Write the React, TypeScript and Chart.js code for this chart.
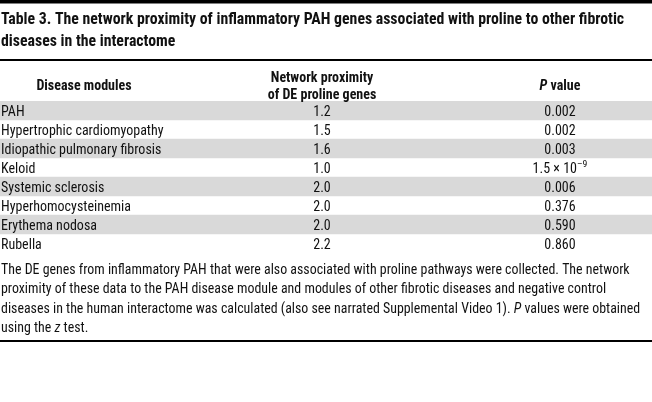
import React, { useEffect, useRef } from 'react';
import { Chart, registerables } from 'chart.js';

Chart.register(...registerables);

const TITLE_LINES = [
  'Table 3. The network proximity of inflammatory PAH genes associated with proline to other fibrotic',
  'diseases in the interactome',
];
const HEADER_DISEASE = ['Disease modules'];
const HEADER_PROXIMITY = ['Network proximity', 'of DE proline genes'];
const HEADER_PVALUE = ['_P_ value'];
const DISEASES = [
  'PAH',
  'Hypertrophic cardiomyopathy',
  'Idiopathic pulmonary fibrosis',
  'Keloid',
  'Systemic sclerosis',
  'Hyperhomocysteinemia',
  'Erythema nodosa',
  'Rubella',
];
const PROXIMITY = [1.2, 1.5, 1.6, 1.0, 2.0, 2.0, 2.0, 2.2];
const P_VALUES = ['0.002', '0.002', '0.003', '1.5 × 10^–9', '0.006', '0.376', '0.590', '0.860'];
const FOOTNOTE = [
  'The DE genes from inflammatory PAH that were also associated with proline pathways were collected. The network',
  'proximity of these data to the PAH disease module and modules of other fibrotic diseases and negative control',
  'diseases in the human interactome was calculated (also see narrated Supplemental Video 1). _P_ values were obtained',
  'using the _z_ test.',
];

const FONT = '"Liberation Sans Narrow", "Roboto Condensed", Roboto, sans-serif';
const TEXT = '#111111';
const STRIPE = '#d9d9d9';

type Seg = { t: string; it: boolean; sup: boolean };

function parse(s: string): Seg[] {
  const out: Seg[] = [];
  const parts = s.split('_');
  parts.forEach((p, i) => {
    if (!p) return;
    const it = i % 2 === 1;
    const k = p.indexOf('^');
    if (k >= 0) {
      out.push({ t: p.slice(0, k), it, sup: false });
      out.push({ t: p.slice(k + 1), it, sup: true });
    } else out.push({ t: p, it, sup: false });
  });
  return out;
}

function font(seg: Seg, size: number, weight: string) {
  const sz = seg.sup ? size * 0.7 : size;
  return `${seg.it ? 'italic ' : ''}${weight} ${sz}px ${FONT}`;
}

function drawRich(
  ctx: CanvasRenderingContext2D,
  s: string,
  x: number,
  y: number,
  align: 'left' | 'center',
  size: number,
  weight = 'normal'
) {
  const segs = parse(s);
  let total = 0;
  const widths = segs.map((g) => {
    ctx.font = font(g, size, weight);
    const w = ctx.measureText(g.t).width;
    total += w;
    return w;
  });
  let cx = align === 'center' ? x - total / 2 : x;
  ctx.textAlign = 'left';
  ctx.textBaseline = 'alphabetic';
  segs.forEach((g, i) => {
    ctx.font = font(g, size, weight);
    ctx.fillText(g.t, cx, g.sup ? y - size * 0.4 : y);
    cx += widths[i];
  });
}

const tablePlugin = {
  id: 'tableText',
  afterDraw(chart: any) {
    const ctx: CanvasRenderingContext2D = chart.ctx;
    const yScale = chart.scales.y;
    const W = chart.width;
    ctx.save();
    ctx.fillStyle = '#000';
    ctx.fillRect(0, 0, W, 3.5);
    ctx.fillRect(0, 59, W, 2);
    ctx.fillRect(0, 340, W, 2);

    ctx.fillStyle = TEXT;
    TITLE_LINES.forEach((l, i) => drawRich(ctx, l, 1, 24 + i * 22, 'left', 15.8, 'bold'));

    HEADER_DISEASE.forEach((l) => drawRich(ctx, l, 84, 90, 'center', 14, 'bold'));
    HEADER_PROXIMITY.forEach((l, i) => drawRich(ctx, l, 322, 82 + i * 17, 'center', 14, 'bold'));
    HEADER_PVALUE.forEach((l) => drawRich(ctx, l, 560, 90, 'center', 14, 'bold'));

    DISEASES.forEach((d, i) => {
      const y = yScale.getPixelForValue(i) + 5;
      drawRich(ctx, d, 1, y, 'left', 14);
      drawRich(ctx, PROXIMITY[i].toFixed(1), 322, y, 'center', 14);
      drawRich(ctx, P_VALUES[i], 560, y, 'center', 14);
    });

    FOOTNOTE.forEach((l, i) => drawRich(ctx, l, 1, 273.5 + i * 19.5, 'left', 13.9));
    ctx.restore();
  },
};

export default function App() {
  const ref = useRef<HTMLCanvasElement | null>(null);
  useEffect(() => {
    document.body.style.margin = '0';
    const canvas = ref.current;
    if (!canvas) return;
    const chart = new Chart(canvas, {
      type: 'bar',
      data: {
        labels: DISEASES,
        datasets: [
          {
            data: DISEASES.map(() => [0, 1] as [number, number]),
            backgroundColor: DISEASES.map((_, i) => (i % 2 === 0 ? STRIPE : 'rgba(0,0,0,0)')),
            borderWidth: 0,
            barPercentage: 1,
            categoryPercentage: 1,
          },
        ],
      },
      options: {
        indexAxis: 'y',
        animation: false,
        responsive: false,
        maintainAspectRatio: false,
        devicePixelRatio: 1,
        layout: { padding: { left: 0, right: 0, top: 101, bottom: 402 - 253 } },
        plugins: { legend: { display: false }, tooltip: { enabled: false } },
        scales: {
          x: { display: false, min: 0, max: 1 },
          y: { display: false },
        },
      },
      plugins: [tablePlugin],
    });
    return () => chart.destroy();
  }, []);
  return (
    <div style={{ width: 652, height: 402, background: '#fff' }}>
      <canvas ref={ref} width={652} height={402} style={{ display: 'block', width: 652, height: 402 }} />
    </div>
  );
}
